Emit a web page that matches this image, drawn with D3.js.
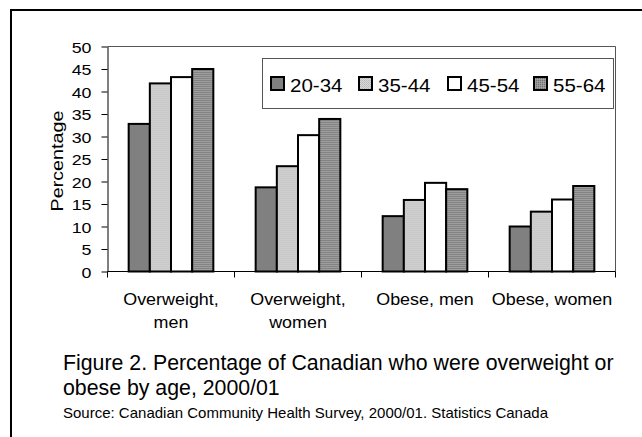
<!DOCTYPE html>
<html>
<head>
<meta charset="utf-8">
<script src="https://cdn.jsdelivr.net/npm/d3@7"></script>
<style>
  html, body { margin: 0; padding: 0; background: #fff; }
  svg { display: block; }
  text { font-family: "Liberation Sans", Arial, sans-serif; fill: #000; }
</style>
</head>
<body>
<svg id="chart" width="642" height="437"></svg>
<script>
// ---- data ----
const categories = [["Overweight,", "men"], ["Overweight,", "women"], ["Obese, men"], ["Obese, women"]];
const seriesNames = ["20-34", "35-44", "45-54", "55-64"];
const values20_34 = [32.8, 18.7, 12.3, 10.0];
const values35_44 = [41.8, 23.4, 15.9, 13.3];
const values45_54 = [43.2, 30.3, 19.7, 16.0];
const values55_64 = [45.0, 33.9, 18.3, 19.0];
const yTicks = [0, 5, 10, 15, 20, 25, 30, 35, 40, 45, 50];
const yLabel = "Percentage";
const captionLines = ["Figure 2. Percentage of Canadian who were overweight or", "obese by age, 2000/01"];
const sourceText = "Source: Canadian Community Health Survey, 2000/01. Statistics Canada";

const seriesValues = [values20_34, values35_44, values45_54, values55_64];

const svg = d3.select("#chart");

// patterns
const defs = svg.append("defs");
const p1 = defs.append("pattern").attr("id", "pLight").attr("patternUnits", "userSpaceOnUse")
  .attr("width", 2).attr("height", 2);
p1.append("rect").attr("width", 2).attr("height", 2).attr("fill", "#d8d8d8");
p1.append("rect").attr("width", 1).attr("height", 1).attr("fill", "#bababa");
p1.append("rect").attr("x", 1).attr("y", 1).attr("width", 1).attr("height", 1).attr("fill", "#c4c4c4");
const p2 = defs.append("pattern").attr("id", "pDark").attr("patternUnits", "userSpaceOnUse")
  .attr("width", 2).attr("height", 2);
p2.append("rect").attr("width", 2).attr("height", 2).attr("fill", "#969696");
p2.append("rect").attr("width", 1).attr("height", 1).attr("fill", "#707070");
p2.append("rect").attr("x", 1).attr("y", 1).attr("width", 1).attr("height", 1).attr("fill", "#a6a6a6");

const fills = ["#808080", "url(#pLight)", "#ffffff", "url(#pDark)"];

// outer frame (top & left visible)
svg.append("rect").attr("x", 11).attr("y", 10).attr("width", 700).attr("height", 500)
  .attr("fill", "none").attr("stroke", "#000").attr("stroke-width", 2);

const plot = { left: 107.5, right: 615.5, top: 46.5, bottom: 271.5 };

const x0 = d3.scaleBand().domain(d3.range(categories.length))
  .range([plot.left, plot.right]).padding(0);
const x1 = d3.scaleBand().domain(d3.range(seriesNames.length))
  .range([x0.bandwidth() / 6, x0.bandwidth() * 5 / 6]).padding(0);
const y = d3.scaleLinear().domain([0, 50]).range([plot.bottom, plot.top]);

// plot area border (top & right)
svg.append("path")
  .attr("d", `M${plot.left},${plot.top}H${plot.right}V${plot.bottom}`)
  .attr("fill", "none").attr("stroke", "#555").attr("stroke-width", 1);

// bars
const groups = svg.append("g").selectAll("g").data(categories).join("g")
  .attr("transform", (d, i) => `translate(${x0(i)},0)`);
groups.selectAll("rect")
  .data((d, i) => seriesValues.map((s, k) => ({ k, v: s[i] })))
  .join("rect")
  .attr("x", d => x1(d.k))
  .attr("y", d => y(d.v))
  .attr("width", x1.bandwidth())
  .attr("height", d => y(0) - y(d.v))
  .attr("fill", d => fills[d.k])
  .attr("stroke", "#000").attr("stroke-width", 2);

// y axis
const yAxis = svg.append("g").attr("transform", `translate(${plot.left},0)`)
  .call(d3.axisLeft(y).tickValues(yTicks).tickSize(6).tickPadding(9).tickSizeOuter(0));
yAxis.select(".domain").attr("stroke", "#000");
yAxis.selectAll(".tick line").attr("stroke", "#000");
yAxis.selectAll(".tick text").attr("font-size", 15.5).attr("fill", "#000")
  .attr("x", null).attr("dy", "0.36em")
  .attr("transform", "translate(-16,0) scale(1.15,1)");
yAxis.attr("font-family", null);

// x axis
const xAxis = svg.append("g").attr("transform", `translate(0,${plot.bottom})`);
xAxis.append("line").attr("x1", plot.left).attr("x2", plot.right).attr("stroke", "#000");
const boundaries = d3.range(categories.length + 1).map(i => i < categories.length ? x0(i) : x0(i - 1) + x0.bandwidth());
xAxis.selectAll(".ctick").data(boundaries).join("line").attr("class", "ctick")
  .attr("x1", d => d).attr("x2", d => d).attr("y1", 0).attr("y2", 6).attr("stroke", "#000");
categories.forEach((lines, i) => {
  lines.forEach((ln, j) => {
    xAxis.append("text")
      .attr("transform", `translate(${x0(i) + x0.bandwidth() / 2},${33.5 + j * 22.5}) scale(1.12,1)`)
      .attr("text-anchor", "middle").attr("font-size", 16).text(ln);
  });
});

// y label
svg.append("text").attr("transform", `translate(62.5,${(plot.top + plot.bottom) / 2 + 2}) rotate(-90) scale(1.22,1)`)
  .attr("text-anchor", "middle").attr("font-size", 16.2).text(yLabel);

// legend
const legend = svg.append("g");
legend.append("rect").attr("x", 262.5).attr("y", 58.5).attr("width", 351).attr("height", 50)
  .attr("fill", "#fff").attr("stroke", "#555").attr("stroke-width", 1);
const legendX = [271, 359, 448, 534];
seriesNames.forEach((name, k) => {
  legend.append("rect").attr("x", legendX[k]).attr("y", 77).attr("width", 13).attr("height", 13)
    .attr("fill", fills[k]).attr("stroke", "#000").attr("stroke-width", 2);
  legend.append("text").attr("transform", `translate(${legendX[k] + 19},91.5) scale(1.08,1)`)
    .attr("font-size", 19).text(name);
});

// caption
captionLines.forEach((ln, j) => {
  svg.append("text").attr("x", 63).attr("y", 370 + j * 25).attr("font-size", 21.3).text(ln);
});
svg.append("text").attr("x", 63).attr("y", 418).attr("font-size", 15).text(sourceText);
</script>
</body>
</html>
